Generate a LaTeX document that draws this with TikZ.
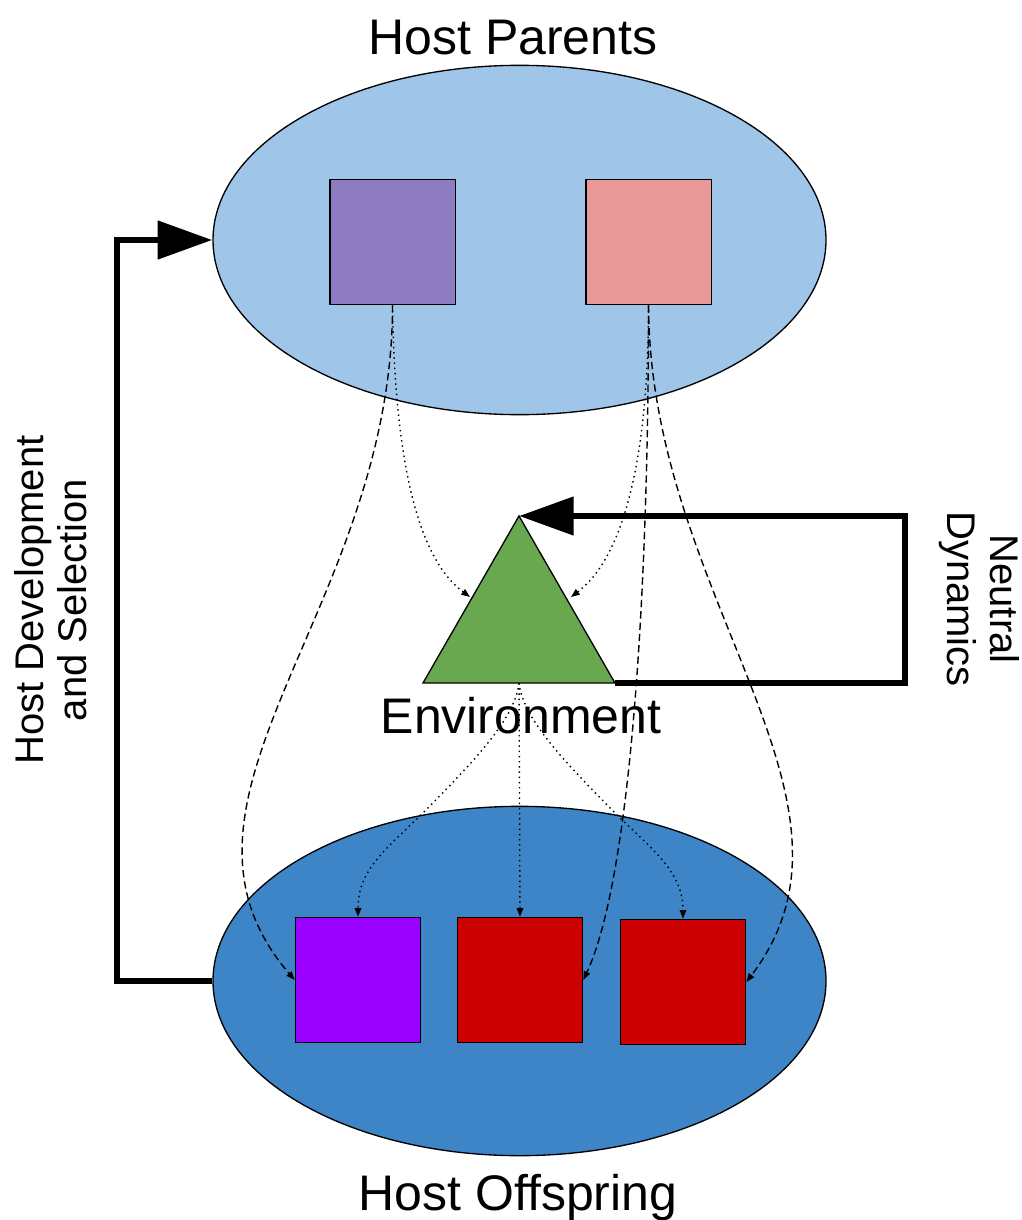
\documentclass[tikz,border=0pt]{standalone}
\usepackage{fontspec}
\setmainfont{Liberation Sans}
\usetikzlibrary{shapes.geometric,arrows.meta}
\definecolor{parentblue}{HTML}{9FC5E8}
\definecolor{offblue}{HTML}{3D85C6}
\definecolor{lpurple}{HTML}{8E7CC3}
\definecolor{lpink}{HTML}{EA9999}
\definecolor{violet}{HTML}{9900FF}
\definecolor{dred}{HTML}{CC0000}
\definecolor{envgreen}{HTML}{6AA84F}
\tikzset{
  popell/.style={ellipse, draw=black, line width=1pt, inner sep=0pt,
    minimum width=459.75pt, minimum height=262pt},
  sqbox/.style={rectangle, draw=black, line width=1pt, inner sep=0pt,
    minimum width=94pt, minimum height=94pt},
  bigarrow/.style={line width=5pt, line join=miter, -{Triangle[length=41pt,width=28pt]}},
  dashconn/.style={line width=1.05pt, dash pattern=on 5.5pt off 3pt, -{Triangle[length=6.5pt,width=5pt]}},
  dotconn/.style={line width=1.05pt, dash pattern=on 1.1pt off 2.8pt, -{Triangle[length=6.5pt,width=5pt]}},
  biglabel/.style={inner sep=0pt, font=\fontsize{37.5}{45}\selectfont},
  sidelabel/.style={inner sep=0pt, align=center, font=\fontsize{30}{32.5}\selectfont}
}
\begin{document}
\begin{tikzpicture}[x=0.75pt,y=-0.75pt]
\useasboundingbox (0,0) rectangle (1021,1220);

% populations
\node[popell, fill=parentblue] (parents) at (519.5,240) {};
\node[popell, fill=offblue] (offspring) at (519.5,981) {};

% parent squares
\node[sqbox, fill=lpurple] (p1) at (392.5,242) {};
\node[sqbox, fill=lpink] (p2) at (648.5,242) {};

% offspring squares
\node[sqbox, fill=violet] (o1) at (358,980) {};
\node[sqbox, fill=dred] (o2) at (520,980) {};
\node[sqbox, fill=dred] (o3) at (683,982) {};

% environment triangle
\coordinate (apex) at (519,516);
\coordinate (bl) at (423,683);
\coordinate (br) at (615,683);
\coordinate (envb) at (519,683);
\draw[line width=1pt, fill=envgreen] (apex) -- (bl) -- (br) -- cycle;

% labels
\node[biglabel, anchor=base] (lparents) at (513,55) {Host Parents};
\node[biglabel, anchor=base] (lenv) at (521,733) {Environment};
\node[biglabel, anchor=base] (loff) at (518,1210) {Host Offspring};
\node[sidelabel, rotate=90] (lsel) at (51,600) {Host Development\\and Selection};
\node[sidelabel, rotate=-90] (lneu) at (979,599) {Neutral\\Dynamics};

% thick loops
\coordinate (lb) at (117,981);
\draw[bigarrow] (offspring.west) -- (lb) |- (parents.west);
\coordinate (rb) at (905,683);
\draw[bigarrow] (br) -- (rb) |- (apex);

% connectors from parents
\coordinate (tl) at (470,597);
\coordinate (tr) at (571,597);
\draw[dashconn] (p1.south) .. controls (392.5,610) and (140,800) .. (o1.west);
\draw[dotconn] (p1.south) .. controls (395,470) and (420,560) .. (tl);
\draw[dotconn] (p2.south) .. controls (648.5,470) and (620,560) .. (tr);
\draw[dashconn] (p2.south) .. controls (648.5,600) and (630,880) .. (o2.east);
\draw[dashconn] (p2.south) .. controls (650,600) and (885,800) .. (o3.east);

% connectors from environment
\draw[dotconn] (envb) .. controls (515,720) and (470,765) .. (423,813) .. controls (385,850) and (358,870) .. (o1.north);
\draw[dotconn] (envb) -- (o2.north);
\draw[dotconn] (envb) .. controls (523,720) and (568,765) .. (615,813) .. controls (653,850) and (683,872) .. (o3.north);
\end{tikzpicture}
\end{document}
